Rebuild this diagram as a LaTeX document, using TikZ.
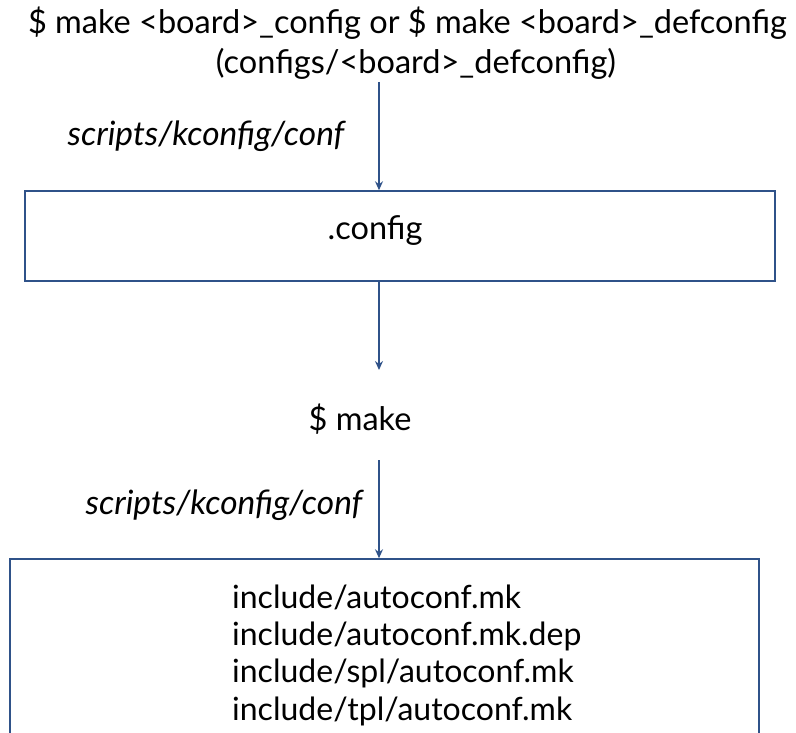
\documentclass[tikz,border=0pt]{standalone}
\usepackage{fontspec}
\setmainfont{Lato}
\usetikzlibrary{arrows.meta}
\definecolor{lineblue}{HTML}{2F5289}
\begin{document}
\begin{tikzpicture}[x=1pt,y=-1pt,
  txt/.style={font=\fontsize{32.5}{37.3}\selectfont, inner sep=0pt, anchor=base},
  itxt/.style={font=\fontsize{33.5}{37}\selectfont\itshape, inner sep=0pt, anchor=base},
  boxst/.style={draw=lineblue, line width=1.5pt},
  arr/.style={draw=lineblue, line width=1.5pt, -{Stealth[length=9pt,width=8pt,inset=3pt]}}]
\useasboundingbox (0,0) rectangle (796,733);
\clip (0,0) rectangle (796,733);
\node[txt] (title1) at (407.5,34) {\$ make <board>\_config or \$ make <board>\_defconfig};
\node[txt] (title2) at (416,74) {(configs/<board>\_defconfig)};
\coordinate (a1s) at (379,82);
\node[boxst, minimum width=750pt, minimum height=90pt, inner sep=0pt] (cfg) at (400,236) {};
\node[txt] (cfgtxt) at (375,240) {.config};
\draw[arr] (a1s) -- (a1s |- cfg.north);
\node[itxt] (lbl1) at (206,146) {scripts/kconfig/conf};
\node[txt] (make) at (360,430) {\$ make};
\coordinate (a2e) at (379,370);
\draw[arr] (a2e |- cfg.south) -- (a2e);
\coordinate (a3s) at (379,460);
\node[boxst, minimum width=749pt, minimum height=240pt, inner sep=0pt] (auto) at (384.5,679) {};
\draw[arr] (a3s) -- (a3s |- auto.north);
\node[itxt] (lbl2) at (224,514) {scripts/kconfig/conf};
\node[txt, align=left, anchor=base west, font=\fontsize{32}{37.3}\selectfont] (autotxt) at (232,720) {include/autoconf.mk\\include/autoconf.mk.dep\\include/spl/autoconf.mk\\include/tpl/autoconf.mk};
\end{tikzpicture}
\end{document}
